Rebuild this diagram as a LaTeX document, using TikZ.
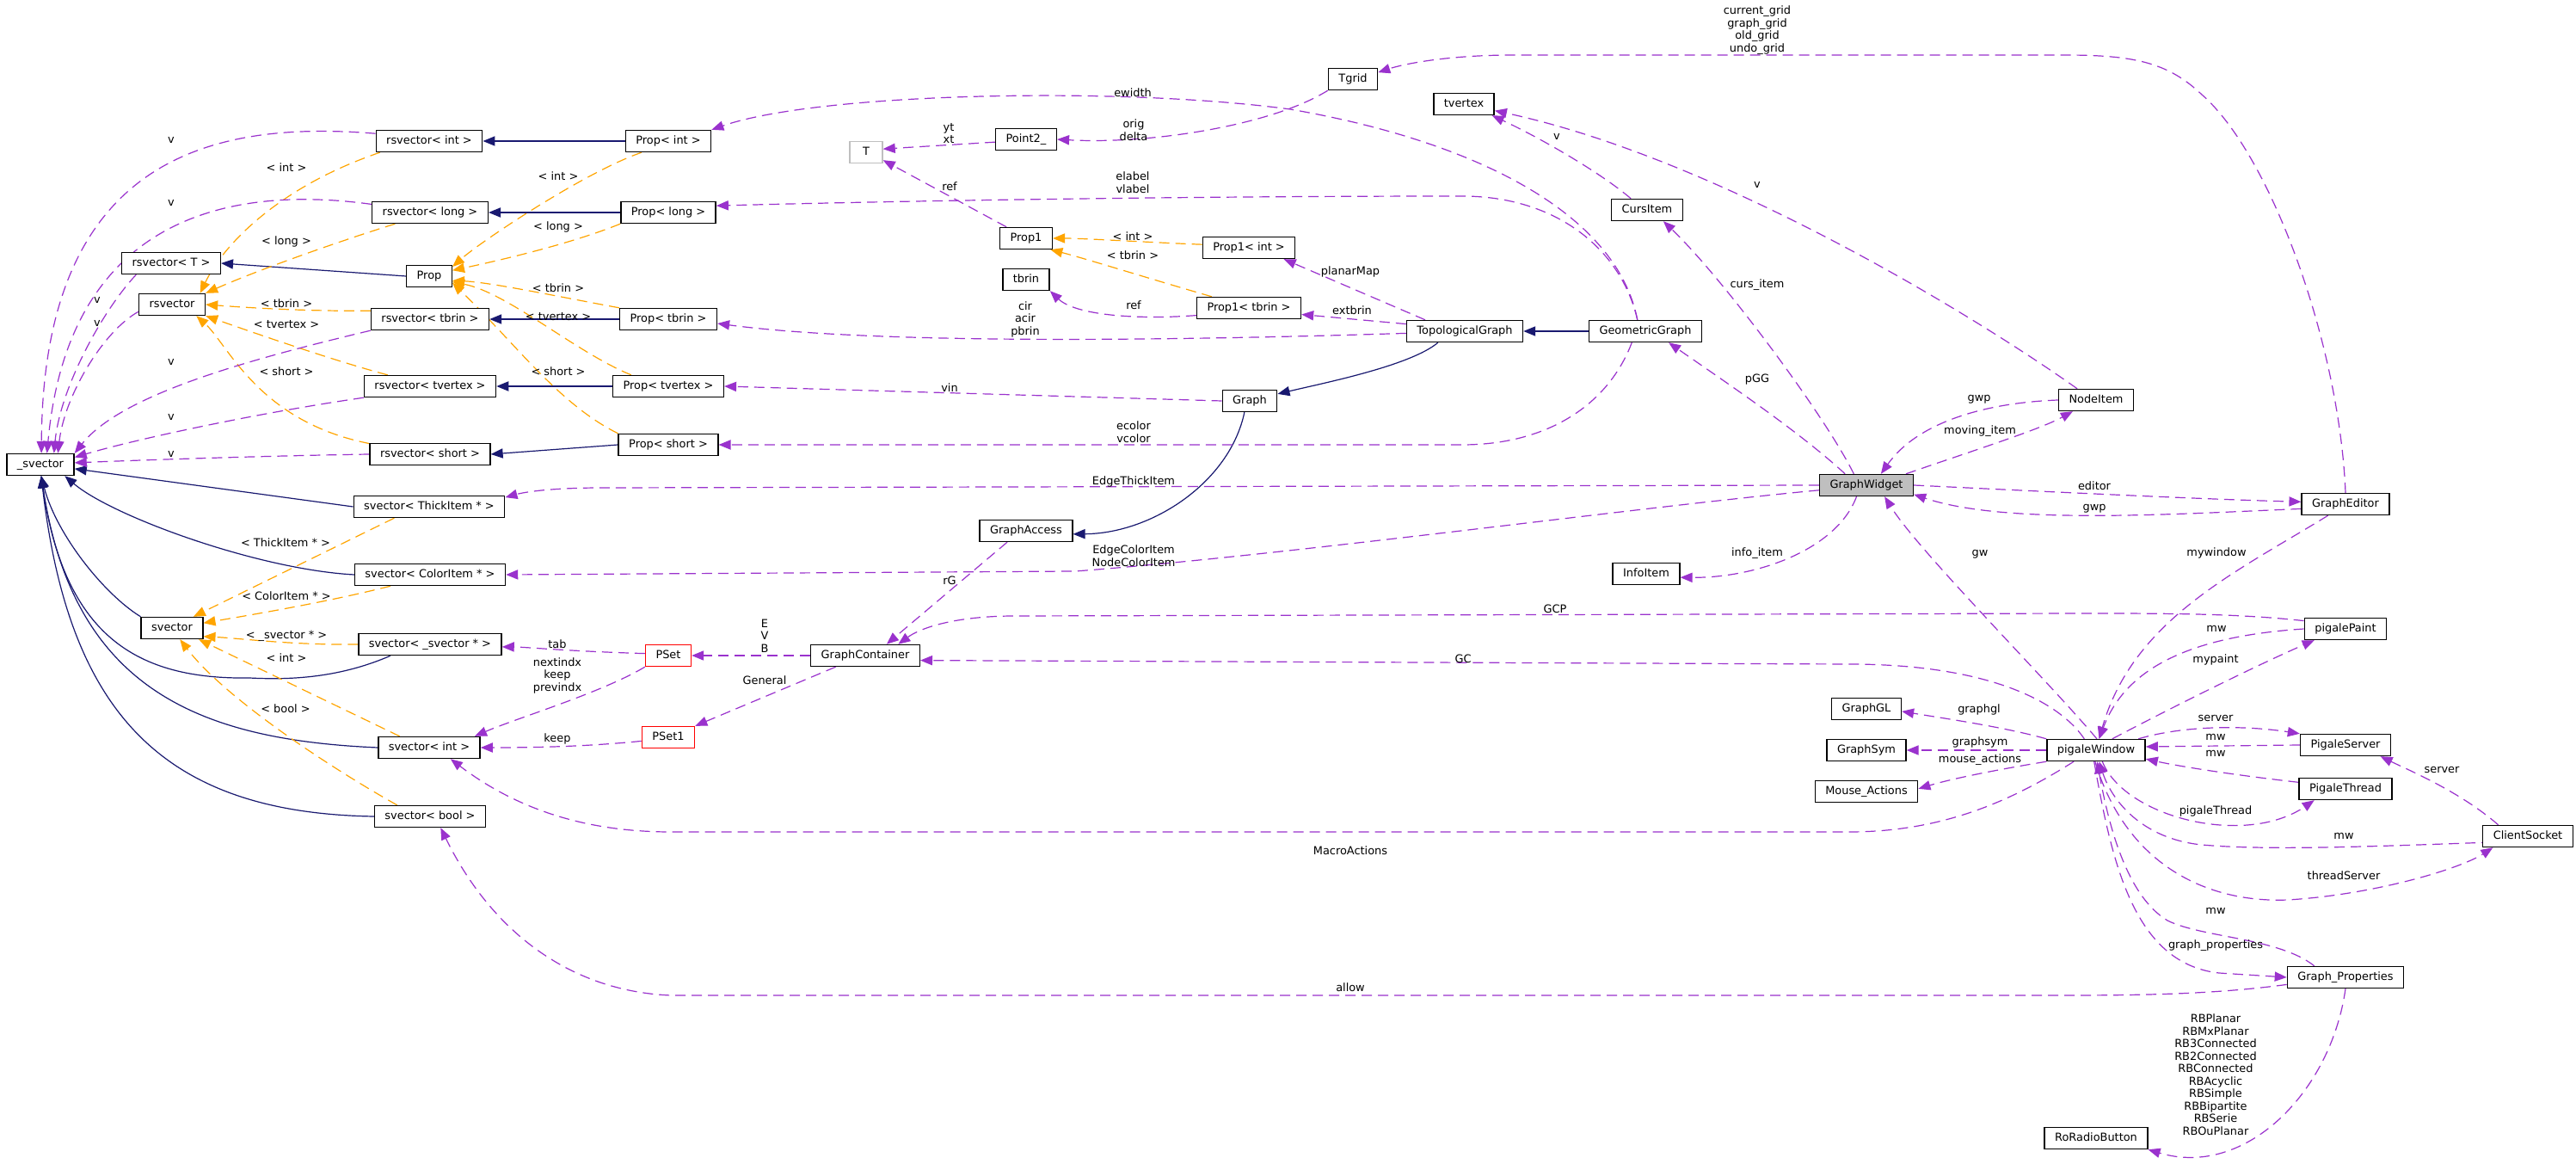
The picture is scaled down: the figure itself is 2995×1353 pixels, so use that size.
\documentclass[tikz,border=0pt]{standalone}
\usepackage{fontspec}
\setmainfont{DejaVu Sans}
\usetikzlibrary{arrows.meta}
\definecolor{usecol}{HTML}{9A32CD}
\definecolor{tplcol}{HTML}{FFA500}
\definecolor{inhcol}{HTML}{191970}
\definecolor{grayb}{HTML}{BFBFBF}
\pgfdeclarelayer{back}
\pgfdeclarelayer{bg}
\pgfsetlayers{back,bg,main}
\begin{document}
\begin{tikzpicture}[x=0.5pt,y=-0.5pt,
  font=\fontsize{6.45pt}{7.25pt}\selectfont,
  cls/.style={draw=black, line width=0.7pt, fill=white, inner xsep=6pt, inner ysep=0pt,
    minimum height=12.5pt, text height=4.9pt, text depth=1.4pt},
  lbl/.style={align=center, inner sep=0pt},
  tip/.style={-{Triangle[length=7pt,width=5.6pt]}},
  inh/.style={tip, draw=inhcol, line width=0.6pt},
  tpl/.style={tip, draw=tplcol, line width=0.6pt, dash pattern=on 6pt off 3.5pt},
  usg/.style={tip, draw=usecol, line width=0.6pt, dash pattern=on 6pt off 3.5pt}]
\begin{pgfonlayer}{back}
\fill[white] (0,0) rectangle (2995,1353);
\end{pgfonlayer}
\useasboundingbox (0,0) rectangle (2995,1353);
% ---------------- nodes
\node[cls] (sv) at (47,540) {\_svector};
\node[cls] (rsi) at (499,164) {rsvector< int >};
\node[cls] (rsl) at (500,247) {rsvector< long >};
\node[cls] (rsT) at (199,306) {rsvector< T >};
\node[cls] (prop) at (499,321) {Prop};
\node[cls] (rs) at (200,354) {rsvector};
\node[cls] (rst) at (500,371) {rsvector< tbrin >};
\node[cls] (rsv) at (500,449) {rsvector< tvertex >};
\node[cls] (rss) at (500,528) {rsvector< short >};
\node[cls] (svT) at (499,589) {svector< ThickItem * >};
\node[cls] (svC) at (500,668) {svector< ColorItem * >};
\node[cls] (svec) at (200,730) {svector};
\node[cls] (svs) at (500,749) {svector< \_svector * >};
\node[cls] (svi) at (499,869) {svector< int >};
\node[cls] (svb) at (500,949) {svector< bool >};
\node[cls] (pi) at (777,164) {Prop< int >};
\node[cls] (pl) at (777,247) {Prop< long >};
\node[cls] (pt) at (777,371) {Prop< tbrin >};
\node[cls] (pv) at (777,449) {Prop< tvertex >};
\node[cls] (ps) at (777,517) {Prop< short >};
\node[cls, draw=red] (pset) at (777,762) {PSet};
\node[cls, draw=red] (pset1) at (777,857) {PSet1};
\node[cls, draw=grayb, minimum width=19pt] (T) at (1007,177) {T};
\node[cls] (pt2) at (1193,162) {Point2\_};
\node[cls] (prop1) at (1193,277) {Prop1};
\node[cls] (tbrin) at (1193,325) {tbrin};
\node[cls] (p1i) at (1452,288) {Prop1< int >};
\node[cls] (p1t) at (1452,358) {Prop1< tbrin >};
\node[cls] (graph) at (1453,466) {Graph};
\node[cls] (ga) at (1193,617) {GraphAccess};
\node[cls] (gc) at (1006,762) {GraphContainer};
\node[cls] (tgrid) at (1573,92) {Tgrid};
\node[cls] (tvx) at (1702,121) {tvertex};
\node[cls] (curs) at (1915,244) {CursItem};
\node[cls] (topo) at (1703,385) {TopologicalGraph};
\node[cls] (geo) at (1913,385) {GeometricGraph};
\node[cls] (info) at (1914,667) {InfoItem};
\node[cls] (nodei) at (2437,465) {NodeItem};
\node[cls, fill=grayb] (gw) at (2170,564) {GraphWidget};
\node[cls] (ged) at (2727,586) {GraphEditor};
\node[cls] (paint) at (2727,731) {pigalePaint};
\node[cls] (ggl) at (2170,824) {GraphGL};
\node[cls] (gsym) at (2170,872) {GraphSym};
\node[cls] (pw) at (2437,872) {pigaleWindow};
\node[cls] (psrv) at (2727,866) {PigaleServer};
\node[cls] (ma) at (2170,920) {Mouse\_Actions};
\node[cls] (pthr) at (2727,917) {PigaleThread};
\node[cls] (cs) at (2939,972) {ClientSocket};
\node[cls] (gp) at (2727,1136) {Graph\_Properties};
\node[cls] (rrb) at (2437,1323) {RoRadioButton};
% ---------------- edges
\begin{pgfonlayer}{bg}
% inheritance
\draw[inh] (pi.west) -- (rsi.east);
\draw[inh] (pl.west) -- (rsl.east);
\draw[inh] (prop.west) -- (rsT.east);
\draw[inh] (pt.west) -- (rst.east);
\draw[inh] (pv.west) -- (rsv.east);
\draw[inh] (ps.west) -- (rss.east);
\draw[inh] (svT.west) -- (sv.-7);
\draw[inh] (svC.west) .. controls (300,662) and (130,600) .. (sv.-25);
\draw[inh] (svec.north west) .. controls (120,690) and (65,620) .. (sv.-86);
\draw[inh] (svs.196) .. controls (390,790) and (330,790) .. (290,788) .. controls (160,790) and (75,740) .. (sv.-86);
\draw[inh] (svi.west) .. controls (230,860) and (85,800) .. (sv.-86);
\draw[inh] (svb.west) .. controls (190,945) and (80,830) .. (sv.-86);
\draw[inh] (geo.west) -- (topo.east);
\draw[inh] (topo.203) .. controls (1640,425) and (1540,445) .. (graph.14);
\draw[inh] (graph.-115) .. controls (1430,560) and (1340,620) .. (ga.-4);
% template instances
\draw[tpl] (rsi.193) .. controls (330,215) and (262,280) .. (rs.22);
\draw[tpl] (rsl.198) .. controls (380,285) and (290,318) .. (rs.north east);
\draw[tpl] (rst.172) .. controls (350,362) and (280,357) .. (rs.east);
\draw[tpl] (rsv.165) .. controls (390,420) and (290,385) .. (rs.south east);
\draw[tpl] (rss.170) .. controls (300,490) and (265,400) .. (rs.-25);
\draw[tpl] (pi.203) .. controls (680,200) and (560,280) .. (prop.22);
\draw[tpl] (pl.south west) .. controls (660,285) and (570,305) .. (prop.14);
\draw[tpl] (pt.north west) .. controls (650,345) and (570,328) .. (prop.-11);
\draw[tpl] (pv.163) .. controls (670,410) and (590,340) .. (prop.-14);
\draw[tpl] (ps.north west) .. controls (650,470) and (600,400) .. (prop.-16);
\draw[tpl] (svT.198) -- (svec.28);
\draw[tpl] (svC.196) .. controls (380,700) and (290,715) .. (svec.9);
\draw[tpl] (svs.west) .. controls (340,750) and (280,742) .. (svec.-15);
\draw[tpl] (svi.159) -- (svec.-23);
\draw[tpl] (svb.161) .. controls (380,890) and (260,810) .. (svec.-55);
\draw[tpl] (p1i.176) .. controls (1340,282) and (1260,277) .. (prop1.east);
\draw[tpl] (p1t.163) .. controls (1340,325) and (1260,300) .. (prop1.-25);
% usage
\draw[usg] (rsi.172) .. controls (250,140) and (50,180) .. (sv.85);
\draw[usg] (rsl.172) .. controls (270,215) and (80,250) .. (sv.60);
\draw[usg] (rsT.198) .. controls (120,360) and (70,450) .. (sv.40);
\draw[usg] (rs.192) .. controls (120,385) and (75,460) .. (sv.33);
\draw[usg] (rst.south west) .. controls (280,420) and (140,460) .. (sv.north east);
\draw[usg] (rsv.south west) .. controls (300,480) and (160,510) .. (sv.12);
\draw[usg] (rss.west) .. controls (300,530) and (160,535) .. (sv.3);
\draw[usg] (geo.125) .. controls (1880,250) and (1720,165) .. (1500,127) .. controls (1300,100) and (950,108) .. (pi.north east);
\draw[usg] (tgrid.south west) .. controls (1480,145) and (1340,168) .. (pt2.east);
\draw[usg] (pt2.185) -- (T.11);
\draw[usg] (prop1.150) -- (T.-25);
\draw[usg] (geo.125) .. controls (1885,290) and (1810,228) .. (1700,228) .. controls (1300,228) and (950,236) .. (pl.8);
\draw[usg] (topo.164) -- (p1i.-18);
\draw[usg] (topo.173) -- (p1t.-7);
\draw[usg] (p1t.188) .. controls (1320,372) and (1250,366) .. (tbrin.south east);
\draw[usg] (topo.182) .. controls (1300,398) and (1000,398) .. (pt.-5);
\draw[usg] (graph.west) -- (pv.east);
\draw[usg] (geo.220) .. controls (1870,470) and (1800,517) .. (1700,517) -- (ps.east);
\draw[usg] (gw.west) -- (700,567) .. controls (640,567) and (610,572) .. (svT.7);
\draw[usg] (gw.186) .. controls (1900,590) and (1500,645) .. (1250,664) -- (svC.east);
\draw[usg] (ga.211) -- (gc.28);
\draw[usg] (paint.169) .. controls (2600,713) and (2520,713) .. (2420,713) -- (1180,716) .. controls (1110,716) and (1070,730) .. (gc.19);
\draw[usg] (pw.136) .. controls (2390,810) and (2300,772) .. (2150,772) -- (gc.-5);
\draw[usg] (gc.west) -- (pset.east);
\draw[usg] (gc.201) -- (pset1.north east);
\draw[usg] (pset.175) .. controls (660,757) and (610,752) .. (svs.-2);
\draw[usg] (pset.south west) .. controls (700,805) and (600,835) .. (svi.14);
\draw[usg] (pset1.188) .. controls (680,868) and (620,869) .. (svi.east);
\draw[usg] (pw.207) .. controls (2340,930) and (2260,967) .. (2150,967) -- (780,967) .. controls (680,967) and (600,940) .. (svi.-28);
\draw[usg] (gp.187) .. controls (2580,1155) and (2500,1157) .. (2400,1157) -- (780,1157) .. controls (660,1152) and (570,1080) .. (svb.-47);
\draw[usg] (gw.152) .. controls (2090,500) and (2000,440) .. (geo.-26);
\draw[usg] (gw.138) .. controls (2120,480) and (2000,320) .. (curs.-35);
\draw[usg] (curs.145) .. controls (1860,200) and (1790,160) .. (tvx.-22);
\draw[usg] (nodei.149) .. controls (2300,370) and (2000,185) .. (tvx.-12);
\draw[usg] (ged.north) .. controls (2720,400) and (2640,180) .. (2560,110) .. controls (2520,72) and (2480,64) .. (2400,64) -- (1760,64) .. controls (1680,64) and (1630,75) .. (tgrid.15);
\draw[usg] (nodei.west) .. controls (2310,468) and (2230,490) .. (gw.38);
\draw[usg] (gw.16) .. controls (2290,525) and (2370,500) .. (nodei.206);
\draw[usg] (gw.east) .. controls (2350,570) and (2550,580) .. (ged.177);
\draw[usg] (ged.186) .. controls (2520,598) and (2330,610) .. (gw.-11);
\draw[usg] (gw.229) .. controls (2135,640) and (2040,672) .. (info.-6);
\draw[usg] (pw.86) .. controls (2380,790) and (2230,640) .. (gw.-32);
\draw[usg] (ged.213) .. controls (2600,665) and (2480,720) .. (pw.75);
\draw[usg] (paint.west) .. controls (2540,740) and (2470,780) .. (pw.75);
\draw[usg] (pw.35) .. controls (2520,825) and (2620,775) .. (paint.200);
\draw[usg] (pw.north west) .. controls (2330,845) and (2260,835) .. (ggl.-4);
\draw[usg] (pw.west) -- (gsym.east);
\draw[usg] (pw.south west) .. controls (2320,895) and (2270,905) .. (ma.3);
\draw[usg] (pw.15) .. controls (2540,843) and (2610,843) .. (psrv.north west);
\draw[usg] (psrv.west) -- (pw.4);
\draw[usg] (pthr.172) .. controls (2590,900) and (2530,890) .. (pw.-10);
\draw[usg] (pw.-61) .. controls (2470,950) and (2610,985) .. (pthr.200);
\draw[usg] (cs.159) .. controls (2860,920) and (2800,895) .. (psrv.-18);
\draw[usg] (cs.-4) .. controls (2800,982) and (2650,990) .. (2560,982) .. controls (2490,975) and (2455,930) .. (pw.-75);
\draw[usg] (pw.-95) .. controls (2470,1000) and (2560,1050) .. (2660,1046) .. controls (2760,1040) and (2860,1010) .. (cs.198);
\draw[usg] (gp.160) .. controls (2650,1090) and (2560,1090) .. (2520,1070) .. controls (2470,1040) and (2450,950) .. (pw.-85);
\draw[usg] (pw.-100) .. controls (2455,1000) and (2480,1120) .. (2580,1131) -- (gp.west);
\draw[usg] (gp.south) .. controls (2710,1270) and (2610,1370) .. (rrb.south east);
\end{pgfonlayer}
% ---------------- labels
\node[lbl] (L1) at (199,163) {v};
\node[lbl] (L2) at (199,236) {v};
\node[lbl] (L3) at (113,349) {v};
\node[lbl] (L4) at (113,376) {v};
\node[lbl] (L5) at (199,421) {v};
\node[lbl] (L6) at (199,485) {v};
\node[lbl] (L7) at (199,528) {v};
\node[lbl] (L8) at (333,195) {< int >};
\node[lbl] (L9) at (333,281) {< long >};
\node[lbl] (L10) at (333,353) {< tbrin >};
\node[lbl] (L11) at (333,377) {< tvertex >};
\node[lbl] (L12) at (333,432) {< short >};
\node[lbl] (L13) at (649,205) {< int >};
\node[lbl] (L14) at (649,264) {< long >};
\node[lbl] (L15) at (649,335) {< tbrin >};
\node[lbl] (L16) at (649,368) {< tvertex >};
\node[lbl] (L17) at (649,432) {< short >};
\node[lbl] (L18) at (332,631) {< ThickItem * >};
\node[lbl] (L19) at (333,693) {< ColorItem * >};
\node[lbl] (L20) at (333,739) {< \_svector * >};
\node[lbl] (L21) at (333,765) {< int >};
\node[lbl] (L22) at (332,824) {< bool >};
\node[lbl] (L23) at (648,749) {tab};
\node[lbl] (L24) at (648,785) {nextindx\\keep\\previndx};
\node[lbl] (L25) at (648,859) {keep};
\node[lbl] (L26) at (1103,155) {yt\\xt};
\node[lbl] (L27) at (1318,151) {orig\\delta};
\node[lbl] (L28) at (1317,108) {ewidth};
\node[lbl] (L29) at (1104,217) {ref};
\node[lbl] (L30) at (1317,212) {elabel\\vlabel};
\node[lbl] (L31) at (1317,275) {< int >};
\node[lbl] (L32) at (1317,297) {< tbrin >};
\node[lbl] (L33) at (1570,316) {planarMap};
\node[lbl] (L34) at (1192,371) {cir\\acir\\pbrin};
\node[lbl] (L35) at (1318,355) {ref};
\node[lbl] (L36) at (1572,361) {extbrin};
\node[lbl] (L37) at (1104,451) {vin};
\node[lbl] (L38) at (1318,502) {ecolor\\vcolor};
\node[lbl] (L39) at (1318,560) {EdgeThickItem};
\node[lbl] (L40) at (1318,646) {EdgeColorItem\\NodeColorItem};
\node[lbl] (L41) at (1104,675) {rG};
\node[lbl] (L42) at (889,739) {E\\V\\B};
\node[lbl] (L43) at (889,791) {General};
\node[lbl] (L44) at (2043,35) {current\_grid\\graph\_grid\\old\_grid\\undo\_grid};
\node[lbl] (L45) at (1810,159) {v};
\node[lbl] (L46) at (2043,215) {v};
\node[lbl] (L47) at (2043,331) {curs\_item};
\node[lbl] (L48) at (2043,441) {pGG};
\node[lbl] (L49) at (2301,464) {gwp};
\node[lbl] (L50) at (2302,501) {moving\_item};
\node[lbl] (L51) at (2435,565) {editor};
\node[lbl] (L52) at (2435,591) {gwp};
\node[lbl] (L53) at (2043,643) {info\_item};
\node[lbl] (L54) at (2302,644) {gw};
\node[lbl] (L55) at (2577,643) {mywindow};
\node[lbl] (L56) at (1808,708) {GCP};
\node[lbl] (L57) at (1701,766) {GC};
\node[lbl] (L58) at (2577,731) {mw};
\node[lbl] (L59) at (2576,767) {mypaint};
\node[lbl] (L60) at (2301,825) {graphgl};
\node[lbl] (L61) at (2302,863) {graphsym};
\node[lbl] (L62) at (2302,883) {mouse\_actions};
\node[lbl] (L63) at (2576,835) {server};
\node[lbl] (L64) at (2576,857) {mw};
\node[lbl] (L65) at (2576,876) {mw};
\node[lbl] (L66) at (2839,895) {server};
\node[lbl] (L67) at (2576,943) {pigaleThread};
\node[lbl] (L68) at (2725,972) {mw};
\node[lbl] (L69) at (2725,1018) {threadServer};
\node[lbl] (L70) at (2576,1059) {mw};
\node[lbl] (L71) at (2576,1099) {graph\_properties};
\node[lbl] (L72) at (1570,989) {MacroActions};
\node[lbl] (L73) at (1570,1148) {allow};
\node[lbl] (L74) at (2576,1249) {RBPlanar\\RBMxPlanar\\RB3Connected\\RB2Connected\\RBConnected\\RBAcyclic\\RBSimple\\RBBipartite\\RBSerie\\RBOuPlanar};
\end{tikzpicture}
\end{document}
